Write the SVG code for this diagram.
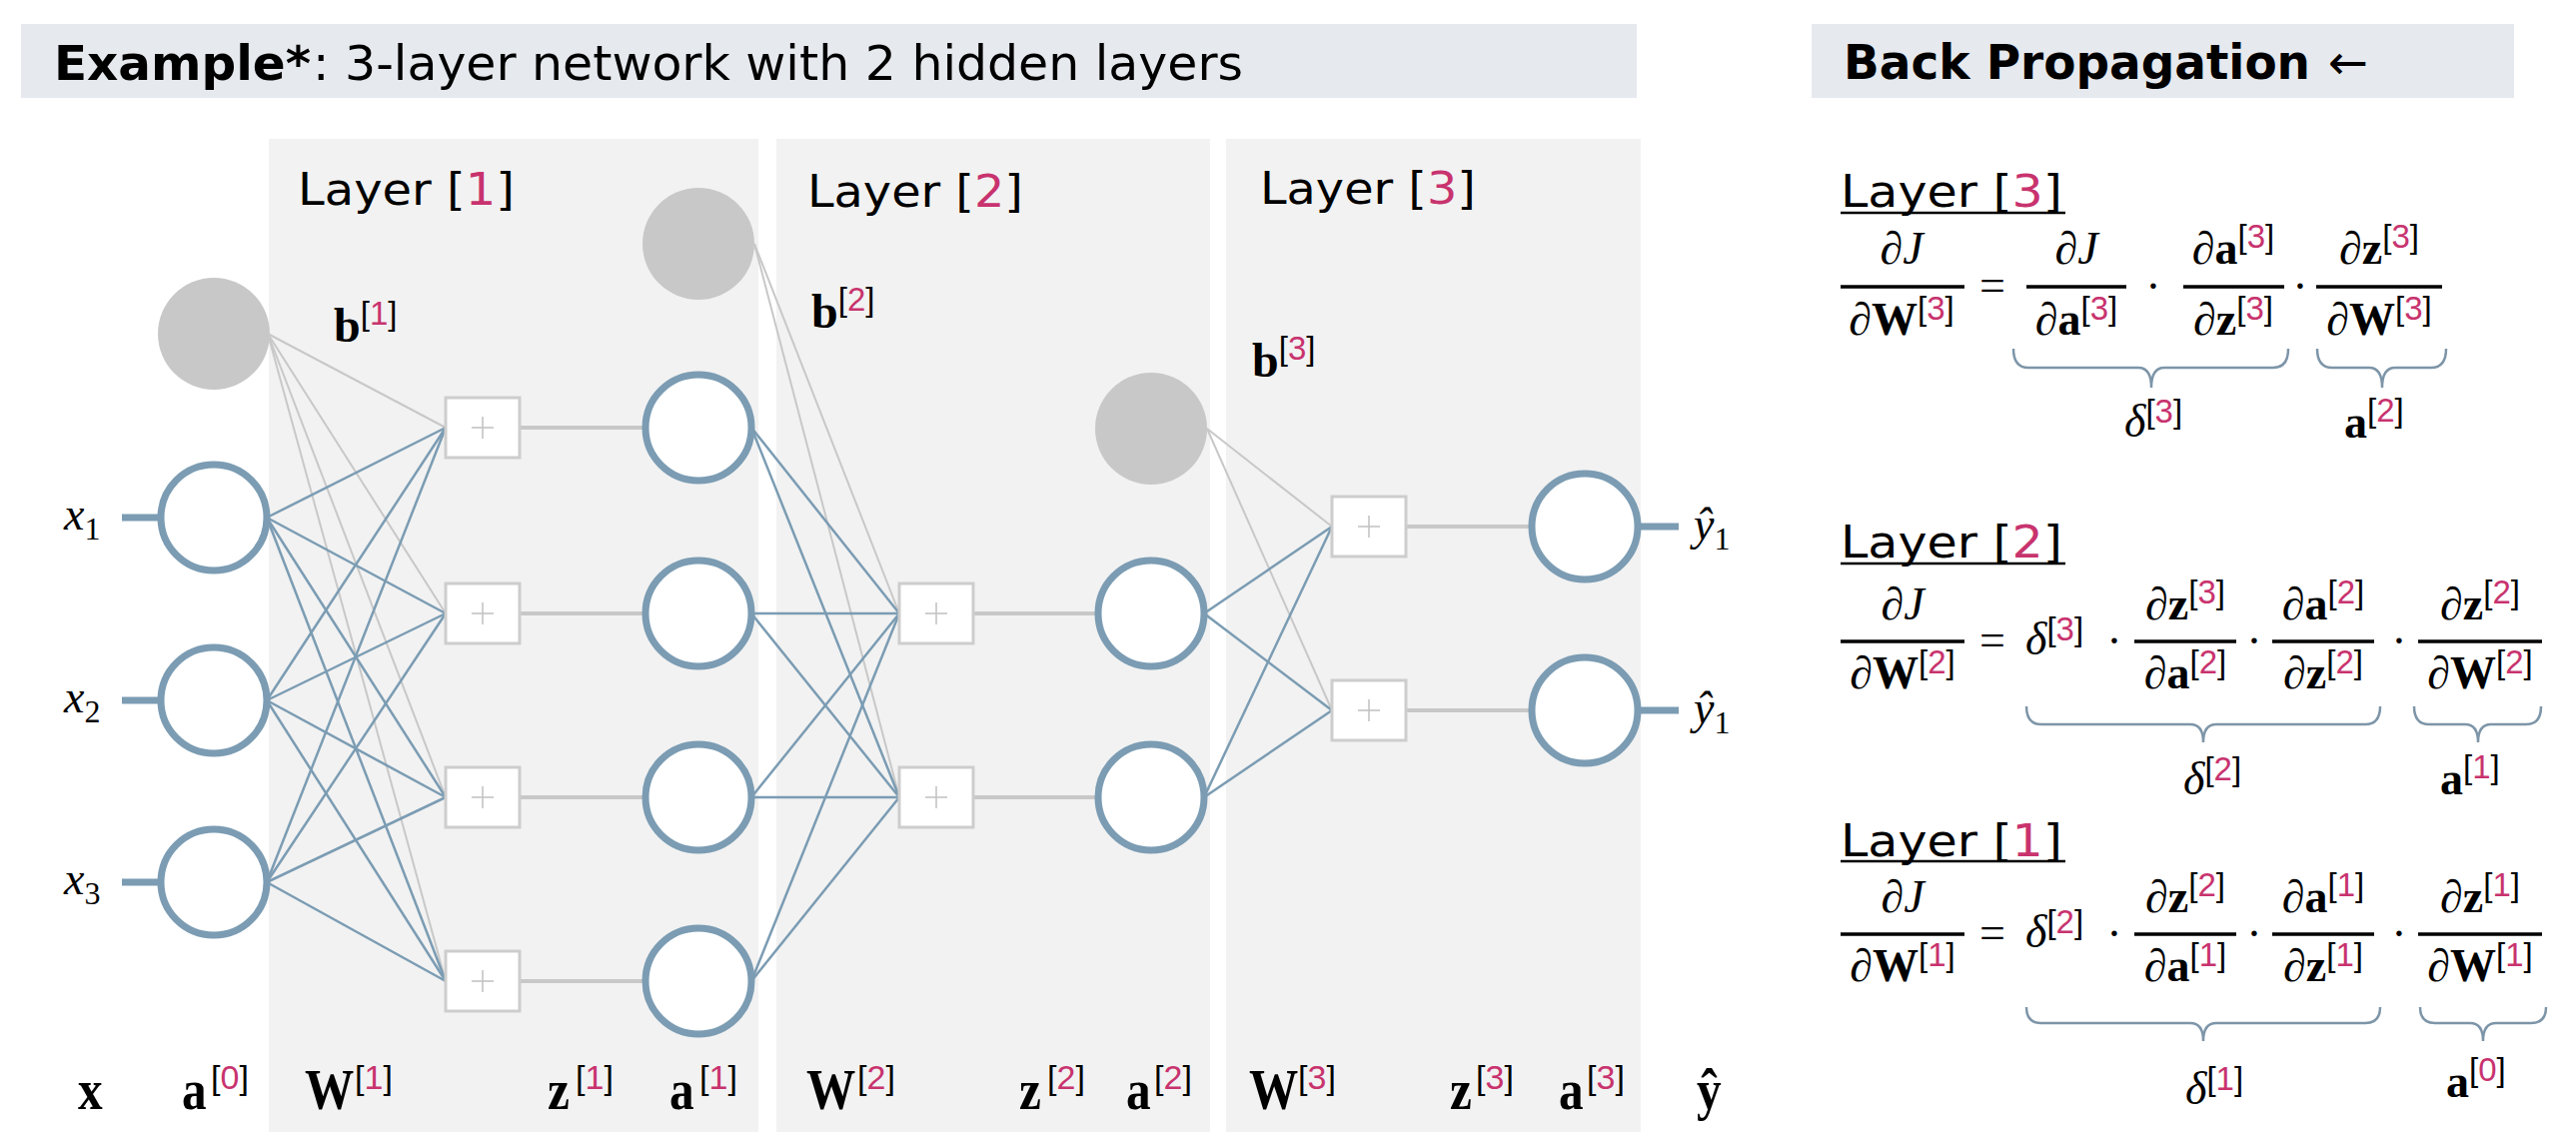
<svg xmlns="http://www.w3.org/2000/svg" width="2578" height="1138" viewBox="0 0 2578 1138">
<style>
.bar{fill:#e6e9ee}
.panel{fill:#f2f2f2}
.tt{font-family:"DejaVu Sans",Verdana,sans-serif;font-size:48px;fill:#000}
.lay{font-family:"DejaVu Sans",Verdana,sans-serif;font-size:45px;fill:#000}
.r{fill:#c8336e}
.node{fill:#fff;stroke:#7b9cb3;stroke-width:7}
.bias{fill:#c8c8c8}
.sbox{fill:#fff;stroke:#cdcdcd;stroke-width:3}
.plus{stroke:#c4c4c4;stroke-width:1.6}
.w{stroke:#7b9cb3;stroke-width:2.5}
.bl{stroke:#c8c8c8;stroke-width:2}
.h{stroke:#c8c8c8;stroke-width:4}
.io{stroke:#7b9cb3;stroke-width:7}
.m{font-family:"Liberation Serif","DejaVu Serif",serif;font-size:46px;fill:#000}
.i{font-style:italic}
.b{font-weight:bold}
.s{font-family:"Liberation Sans","DejaVu Sans",sans-serif;font-size:33px;font-weight:normal;font-style:normal}
.sup{font-family:"Liberation Sans","DejaVu Sans",sans-serif;font-size:34px;fill:#000}
.lb{font-family:"Liberation Serif","DejaVu Serif",serif;font-size:56px;font-weight:bold;fill:#000}
.bb{font-family:"Liberation Serif","DejaVu Serif",serif;font-size:48px;font-weight:bold;fill:#000}
.fb{stroke:#000;stroke-width:3.5}
.ul{stroke:#000;stroke-width:2.5}
.brace{fill:none;stroke:#7d95a8;stroke-width:2.5}
</style>
<defs>
<g id="sum">
<rect class="sbox" x="-37" y="-30" width="74" height="60"/>
<line class="plus" x1="-11" y1="0" x2="11" y2="0"/>
<line class="plus" x1="0" y1="-11" x2="0" y2="11"/>
</g>
</defs>
<rect width="2578" height="1138" fill="#fff"/>
<g id="headers">
<rect class="bar" x="21" y="24" width="1617" height="74"/>
<text class="tt" x="54" y="80" font-weight="bold" textLength="257" lengthAdjust="spacingAndGlyphs">Example*</text>
<text class="tt" x="313" y="80" textLength="931" lengthAdjust="spacingAndGlyphs">: 3-layer network with 2 hidden layers</text>
<rect class="bar" x="1813" y="24" width="703" height="74"/>
<text class="tt" x="1845" y="79" font-weight="bold" font-size="47" textLength="467" lengthAdjust="spacingAndGlyphs">Back Propagation</text>
<text class="tt" x="2330" y="79" font-size="46">←</text>
</g>
<g id="panels">
<rect class="panel" x="269" y="139" width="490" height="994"/>
<rect class="panel" x="777" y="139" width="434" height="994"/>
<rect class="panel" x="1227" y="139" width="415" height="994"/>
<text class="lay" x="298" y="205" textLength="217" lengthAdjust="spacingAndGlyphs">Layer [<tspan class="r">1</tspan>]</text>
<text class="lay" x="808" y="207" textLength="216" lengthAdjust="spacingAndGlyphs">Layer [<tspan class="r">2</tspan>]</text>
<text class="lay" x="1261" y="204" textLength="216" lengthAdjust="spacingAndGlyphs">Layer [<tspan class="r">3</tspan>]</text>
</g>
<g id="connectors">
<line class="io" x1="122" y1="518" x2="160" y2="518"/>
<line class="io" x1="122" y1="701" x2="160" y2="701"/>
<line class="io" x1="122" y1="883" x2="160" y2="883"/>
<line class="bl" x1="268" y1="334" x2="446" y2="428"/>
<line class="bl" x1="268" y1="334" x2="446" y2="614"/>
<line class="bl" x1="268" y1="334" x2="446" y2="798"/>
<line class="bl" x1="268" y1="334" x2="446" y2="982"/>
<line class="w" x1="267" y1="518" x2="446" y2="428"/>
<line class="w" x1="267" y1="518" x2="446" y2="614"/>
<line class="w" x1="267" y1="518" x2="446" y2="798"/>
<line class="w" x1="267" y1="518" x2="446" y2="982"/>
<line class="w" x1="267" y1="701" x2="446" y2="428"/>
<line class="w" x1="267" y1="701" x2="446" y2="614"/>
<line class="w" x1="267" y1="701" x2="446" y2="798"/>
<line class="w" x1="267" y1="701" x2="446" y2="982"/>
<line class="w" x1="267" y1="883" x2="446" y2="428"/>
<line class="w" x1="267" y1="883" x2="446" y2="614"/>
<line class="w" x1="267" y1="883" x2="446" y2="798"/>
<line class="w" x1="267" y1="883" x2="446" y2="982"/>
<line class="h" x1="520" y1="428" x2="646" y2="428"/>
<line class="h" x1="520" y1="614" x2="646" y2="614"/>
<line class="h" x1="520" y1="798" x2="646" y2="798"/>
<line class="h" x1="520" y1="982" x2="646" y2="982"/>
<line class="bl" x1="755" y1="244" x2="900" y2="614"/>
<line class="bl" x1="755" y1="244" x2="900" y2="798"/>
<line class="w" x1="752" y1="428" x2="900" y2="614"/>
<line class="w" x1="752" y1="428" x2="900" y2="798"/>
<line class="w" x1="752" y1="614" x2="900" y2="614"/>
<line class="w" x1="752" y1="614" x2="900" y2="798"/>
<line class="w" x1="752" y1="798" x2="900" y2="614"/>
<line class="w" x1="752" y1="798" x2="900" y2="798"/>
<line class="w" x1="752" y1="982" x2="900" y2="614"/>
<line class="w" x1="752" y1="982" x2="900" y2="798"/>
<line class="h" x1="974" y1="614" x2="1099" y2="614"/>
<line class="h" x1="974" y1="798" x2="1099" y2="798"/>
<line class="bl" x1="1208" y1="429" x2="1333" y2="527"/>
<line class="bl" x1="1208" y1="429" x2="1333" y2="711"/>
<line class="w" x1="1205" y1="614" x2="1333" y2="527"/>
<line class="w" x1="1205" y1="614" x2="1333" y2="711"/>
<line class="w" x1="1205" y1="798" x2="1333" y2="527"/>
<line class="w" x1="1205" y1="798" x2="1333" y2="711"/>
<line class="h" x1="1407" y1="527" x2="1533" y2="527"/>
<line class="h" x1="1407" y1="711" x2="1533" y2="711"/>
<line class="io" x1="1639" y1="527" x2="1680" y2="527"/>
<line class="io" x1="1639" y1="711" x2="1680" y2="711"/>
</g>
<g id="bias1"><circle class="bias" cx="214" cy="334" r="56"/></g>
<g id="x1"><circle class="node" cx="214" cy="518" r="53"/><text class="m i" x="64" y="530" font-size="52">x<tspan font-size="32" font-style="normal" dy="10">1</tspan></text></g>
<g id="x2"><circle class="node" cx="214" cy="701" r="53"/><text class="m i" x="64" y="713" font-size="52">x<tspan font-size="32" font-style="normal" dy="10">2</tspan></text></g>
<g id="x3"><circle class="node" cx="214" cy="883" r="53"/><text class="m i" x="64" y="895" font-size="52">x<tspan font-size="32" font-style="normal" dy="10">3</tspan></text></g>
<g id="z1_1"><use href="#sum" x="483" y="428"/></g>
<g id="z1_2"><use href="#sum" x="483" y="614"/></g>
<g id="z1_3"><use href="#sum" x="483" y="798"/></g>
<g id="z1_4"><use href="#sum" x="483" y="982"/></g>
<g id="b1label"><text class="bb" x="334" y="342">b<tspan class="s" dy="-17">[<tspan class="r">1</tspan>]</tspan></text></g>
<g id="bias2"><circle class="bias" cx="699" cy="244" r="56"/></g>
<g id="a1_1"><circle class="node" cx="699" cy="428" r="53"/></g>
<g id="a1_2"><circle class="node" cx="699" cy="614" r="53"/></g>
<g id="a1_3"><circle class="node" cx="699" cy="798" r="53"/></g>
<g id="a1_4"><circle class="node" cx="699" cy="982" r="53"/></g>
<g id="b2label"><text class="bb" x="812" y="328">b<tspan class="s" dy="-17">[<tspan class="r">2</tspan>]</tspan></text></g>
<g id="z2_1"><use href="#sum" x="937" y="614"/></g>
<g id="z2_2"><use href="#sum" x="937" y="798"/></g>
<g id="bias3"><circle class="bias" cx="1152" cy="429" r="56"/></g>
<g id="a2_1"><circle class="node" cx="1152" cy="614" r="53"/></g>
<g id="a2_2"><circle class="node" cx="1152" cy="798" r="53"/></g>
<g id="b3label"><text class="bb" x="1253" y="377">b<tspan class="s" dy="-17">[<tspan class="r">3</tspan>]</tspan></text></g>
<g id="z3_1"><use href="#sum" x="1370" y="527"/></g>
<g id="z3_2"><use href="#sum" x="1370" y="711"/></g>
<g id="y1"><circle class="node" cx="1586" cy="527" r="53"/><text class="m i" x="1695" y="540" font-size="50">ŷ<tspan font-size="32" font-style="normal" dy="10">1</tspan></text></g>
<g id="y2"><circle class="node" cx="1586" cy="711" r="53"/><text class="m i" x="1695" y="724" font-size="50">ŷ<tspan font-size="32" font-style="normal" dy="10">1</tspan></text></g>
<g id="bottom-labels">
<text class="lb" transform="translate(78 1110) scale(0.88 1)">x</text>
<text class="lb" transform="translate(182 1110) scale(0.88 1)">a</text><text class="sup" x="211" y="1090">[<tspan class="r">0</tspan>]</text>
<text class="lb" transform="translate(305 1110) scale(0.88 1)">W</text><text class="sup" x="355" y="1090">[<tspan class="r">1</tspan>]</text>
<text class="lb" transform="translate(548 1110) scale(0.88 1)">z</text><text class="sup" x="576" y="1090">[<tspan class="r">1</tspan>]</text>
<text class="lb" transform="translate(670 1110) scale(0.88 1)">a</text><text class="sup" x="700" y="1090">[<tspan class="r">1</tspan>]</text>
<text class="lb" transform="translate(807 1110) scale(0.88 1)">W</text><text class="sup" x="858" y="1090">[<tspan class="r">2</tspan>]</text>
<text class="lb" transform="translate(1020 1110) scale(0.88 1)">z</text><text class="sup" x="1048" y="1090">[<tspan class="r">2</tspan>]</text>
<text class="lb" transform="translate(1127 1110) scale(0.88 1)">a</text><text class="sup" x="1155" y="1090">[<tspan class="r">2</tspan>]</text>
<text class="lb" transform="translate(1250 1110) scale(0.88 1)">W</text><text class="sup" x="1299" y="1090">[<tspan class="r">3</tspan>]</text>
<text class="lb" transform="translate(1451 1110) scale(0.88 1)">z</text><text class="sup" x="1477" y="1090">[<tspan class="r">3</tspan>]</text>
<text class="lb" transform="translate(1560 1110) scale(0.88 1)">a</text><text class="sup" x="1588" y="1090">[<tspan class="r">3</tspan>]</text>
<text class="lb" transform="translate(1698 1110) scale(0.88 1)">ŷ</text>
</g>
<g id="eq3">
<text class="lay" x="1842" y="207" font-size="44" textLength="222" lengthAdjust="spacingAndGlyphs">Layer [<tspan class="r">3</tspan>]</text>
<line class="ul" x1="1842" y1="213" x2="2067" y2="213"/>
<line class="fb" x1="1842" y1="287" x2="1966" y2="287"/>
<text class="m i" x="1903" y="264" text-anchor="middle">∂J</text>
<text class="m" x="1903" y="335" text-anchor="middle"><tspan class="i">∂</tspan><tspan class="b">W</tspan><tspan class="s" dy="-15">[<tspan class="r">3</tspan>]</tspan></text>
<text class="m" x="1994" y="301" text-anchor="middle">=</text>
<line class="fb" x1="2028" y1="287" x2="2128" y2="287"/>
<text class="m i" x="2078" y="264" text-anchor="middle">∂J</text>
<text class="m" x="2078" y="335" text-anchor="middle"><tspan class="i">∂</tspan><tspan class="b">a</tspan><tspan class="s" dy="-15">[<tspan class="r">3</tspan>]</tspan></text>
<text class="m" x="2155" y="302" text-anchor="middle">·</text>
<line class="fb" x1="2185" y1="287" x2="2286" y2="287"/>
<text class="m" x="2235" y="264" text-anchor="middle"><tspan class="i">∂</tspan><tspan class="b">a</tspan><tspan class="s" dy="-16">[<tspan class="r">3</tspan>]</tspan></text>
<text class="m" x="2235" y="335" text-anchor="middle"><tspan class="i">∂</tspan><tspan class="b">z</tspan><tspan class="s" dy="-15">[<tspan class="r">3</tspan>]</tspan></text>
<text class="m" x="2302" y="302" text-anchor="middle">·</text>
<line class="fb" x1="2318" y1="287" x2="2444" y2="287"/>
<text class="m" x="2381" y="264" text-anchor="middle"><tspan class="i">∂</tspan><tspan class="b">z</tspan><tspan class="s" dy="-16">[<tspan class="r">3</tspan>]</tspan></text>
<text class="m" x="2381" y="335" text-anchor="middle"><tspan class="i">∂</tspan><tspan class="b">W</tspan><tspan class="s" dy="-15">[<tspan class="r">3</tspan>]</tspan></text>
<path class="brace" d="M2015 349 Q2015 368 2030 368 L2140 368 Q2153 368 2153 388 Q2153 368 2166 368 L2275 368 Q2290 368 2290 349"/>
<path class="brace" d="M2319 349 Q2319 368 2334 368 L2371 368 Q2384 368 2384 388 Q2384 368 2397 368 L2433 368 Q2448 368 2448 349"/>
<text class="m i" x="2126" y="437" font-size="50">δ<tspan class="s" dy="-14">[<tspan class="r">3</tspan>]</tspan></text>
<text class="m b" x="2346" y="438">a<tspan class="s" dy="-16">[<tspan class="r">2</tspan>]</tspan></text>
</g>
<g id="eq2">
<text class="lay" x="1842" y="558" font-size="44" textLength="222" lengthAdjust="spacingAndGlyphs">Layer [<tspan class="r">2</tspan>]</text>
<line class="ul" x1="1842" y1="564" x2="2067" y2="564"/>
<line class="fb" x1="1842" y1="642" x2="1966" y2="642"/>
<text class="m i" x="1904" y="620" text-anchor="middle">∂J</text>
<text class="m" x="1904" y="689" text-anchor="middle"><tspan class="i">∂</tspan><tspan class="b">W</tspan><tspan class="s" dy="-15">[<tspan class="r">2</tspan>]</tspan></text>
<text class="m" x="1994" y="656" text-anchor="middle">=</text>
<text class="m i" x="2027" y="655" font-size="50">δ<tspan class="s" dy="-14">[<tspan class="r">3</tspan>]</tspan></text>
<text class="m" x="2116" y="657" text-anchor="middle">·</text>
<line class="fb" x1="2136" y1="642" x2="2238" y2="642"/>
<text class="m" x="2187" y="620" text-anchor="middle"><tspan class="i">∂</tspan><tspan class="b">z</tspan><tspan class="s" dy="-16">[<tspan class="r">3</tspan>]</tspan></text>
<text class="m" x="2187" y="689" text-anchor="middle"><tspan class="i">∂</tspan><tspan class="b">a</tspan><tspan class="s" dy="-15">[<tspan class="r">2</tspan>]</tspan></text>
<text class="m" x="2256" y="657" text-anchor="middle">·</text>
<line class="fb" x1="2274" y1="642" x2="2376" y2="642"/>
<text class="m" x="2325" y="620" text-anchor="middle"><tspan class="i">∂</tspan><tspan class="b">a</tspan><tspan class="s" dy="-16">[<tspan class="r">2</tspan>]</tspan></text>
<text class="m" x="2325" y="689" text-anchor="middle"><tspan class="i">∂</tspan><tspan class="b">z</tspan><tspan class="s" dy="-15">[<tspan class="r">2</tspan>]</tspan></text>
<text class="m" x="2401" y="657" text-anchor="middle">·</text>
<line class="fb" x1="2420" y1="642" x2="2544" y2="642"/>
<text class="m" x="2482" y="620" text-anchor="middle"><tspan class="i">∂</tspan><tspan class="b">z</tspan><tspan class="s" dy="-16">[<tspan class="r">2</tspan>]</tspan></text>
<text class="m" x="2482" y="689" text-anchor="middle"><tspan class="i">∂</tspan><tspan class="b">W</tspan><tspan class="s" dy="-15">[<tspan class="r">2</tspan>]</tspan></text>
<path class="brace" d="M2028 707 Q2028 725 2043 725 L2192 725 Q2205 725 2205 743 Q2205 725 2218 725 L2367 725 Q2382 725 2382 707"/>
<path class="brace" d="M2416 707 Q2416 725 2431 725 L2467 725 Q2480 725 2480 743 Q2480 725 2493 725 L2528 725 Q2543 725 2543 707"/>
<text class="m i" x="2185" y="795" font-size="50">δ<tspan class="s" dy="-14">[<tspan class="r">2</tspan>]</tspan></text>
<text class="m b" x="2442" y="795">a<tspan class="s" dy="-16">[<tspan class="r">1</tspan>]</tspan></text>
</g>
<g id="eq1">
<text class="lay" x="1842" y="857" font-size="44" textLength="222" lengthAdjust="spacingAndGlyphs">Layer [<tspan class="r">1</tspan>]</text>
<line class="ul" x1="1842" y1="862" x2="2067" y2="862"/>
<line class="fb" x1="1842" y1="935" x2="1966" y2="935"/>
<text class="m i" x="1904" y="913" text-anchor="middle">∂J</text>
<text class="m" x="1904" y="982" text-anchor="middle"><tspan class="i">∂</tspan><tspan class="b">W</tspan><tspan class="s" dy="-15">[<tspan class="r">1</tspan>]</tspan></text>
<text class="m" x="1994" y="949" text-anchor="middle">=</text>
<text class="m i" x="2027" y="948" font-size="50">δ<tspan class="s" dy="-14">[<tspan class="r">2</tspan>]</tspan></text>
<text class="m" x="2116" y="950" text-anchor="middle">·</text>
<line class="fb" x1="2136" y1="935" x2="2238" y2="935"/>
<text class="m" x="2187" y="913" text-anchor="middle"><tspan class="i">∂</tspan><tspan class="b">z</tspan><tspan class="s" dy="-16">[<tspan class="r">2</tspan>]</tspan></text>
<text class="m" x="2187" y="982" text-anchor="middle"><tspan class="i">∂</tspan><tspan class="b">a</tspan><tspan class="s" dy="-15">[<tspan class="r">1</tspan>]</tspan></text>
<text class="m" x="2256" y="950" text-anchor="middle">·</text>
<line class="fb" x1="2274" y1="935" x2="2376" y2="935"/>
<text class="m" x="2325" y="913" text-anchor="middle"><tspan class="i">∂</tspan><tspan class="b">a</tspan><tspan class="s" dy="-16">[<tspan class="r">1</tspan>]</tspan></text>
<text class="m" x="2325" y="982" text-anchor="middle"><tspan class="i">∂</tspan><tspan class="b">z</tspan><tspan class="s" dy="-15">[<tspan class="r">1</tspan>]</tspan></text>
<text class="m" x="2401" y="950" text-anchor="middle">·</text>
<line class="fb" x1="2420" y1="935" x2="2544" y2="935"/>
<text class="m" x="2482" y="913" text-anchor="middle"><tspan class="i">∂</tspan><tspan class="b">z</tspan><tspan class="s" dy="-16">[<tspan class="r">1</tspan>]</tspan></text>
<text class="m" x="2482" y="982" text-anchor="middle"><tspan class="i">∂</tspan><tspan class="b">W</tspan><tspan class="s" dy="-15">[<tspan class="r">1</tspan>]</tspan></text>
<path class="brace" d="M2028 1008 Q2028 1024 2043 1024 L2192 1024 Q2205 1024 2205 1042 Q2205 1024 2218 1024 L2367 1024 Q2382 1024 2382 1008"/>
<path class="brace" d="M2422 1008 Q2422 1024 2437 1024 L2472 1024 Q2485 1024 2485 1042 Q2485 1024 2498 1024 L2533 1024 Q2548 1024 2548 1008"/>
<text class="m i" x="2187" y="1105" font-size="50">δ<tspan class="s" dy="-14">[<tspan class="r">1</tspan>]</tspan></text>
<text class="m b" x="2448" y="1098">a<tspan class="s" dy="-16">[<tspan class="r">0</tspan>]</tspan></text>
</g>
</svg>
